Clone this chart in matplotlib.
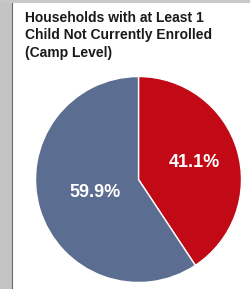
import numpy as np
import matplotlib
matplotlib.use("Agg")
import matplotlib.pyplot as plt
from matplotlib.patches import Rectangle

title = "Households with at Least 1\nChild Not Currently Enrolled\n(Camp Level)"
categories = ["Not enrolled", "Enrolled"]
values = [41.1, 59.9]
labels = ["41.1%", "59.9%"]
colors = ["#C10A16", "#5B6D90"]
label_dist = [0.57, 0.44]

W, H = 251, 289
fig = plt.figure(figsize=(W / 100, H / 100), dpi=100)
fig.patch.set_facecolor("white")

# textured background strips (approximated with gray)
bg = fig.add_axes([0, 0, 1, 1])
bg.set_axis_off()
bg.set_xlim(0, W)
bg.set_ylim(H, 0)
bg.add_patch(Rectangle((0, 0), 12.5, H, facecolor="#c4c4c4", edgecolor="none"))
bg.add_patch(Rectangle((0, 0), W, 3, facecolor="#c8c8c8", edgecolor="none"))
bg.plot([12.5, 12.5], [3, H], color="#6a6a6a", lw=0.8)

# baseline of the first title line ~ y=26 px
fig.text(25 / W, 1 - 56.5 / H, title, ha="left", va="baseline",
         fontsize=10, fontweight="bold", family="Liberation Sans",
         color="#1a1a1a", linespacing=1.3)

cx, cy, r = 138.5, 179.5, 103
ax = fig.add_axes([(cx - r) / W, (H - cy - r) / H, 2 * r / W, 2 * r / H])
wedges, _ = ax.pie(values, colors=colors, startangle=90, counterclock=False,
                   wedgeprops=dict(edgecolor="white", linewidth=1.0))
ax.set_xlim(-1, 1)
ax.set_ylim(-1, 1)
ax.set_aspect("equal")
for w, lab, d in zip(wedges, labels, label_dist):
    ang = np.deg2rad((w.theta1 + w.theta2) / 2)
    ax.text(d * np.cos(ang), d * np.sin(ang), lab, ha="center", va="center",
            color="white", fontsize=13, fontweight="bold", family="Liberation Sans")

fig.savefig("out.png", dpi=100)
